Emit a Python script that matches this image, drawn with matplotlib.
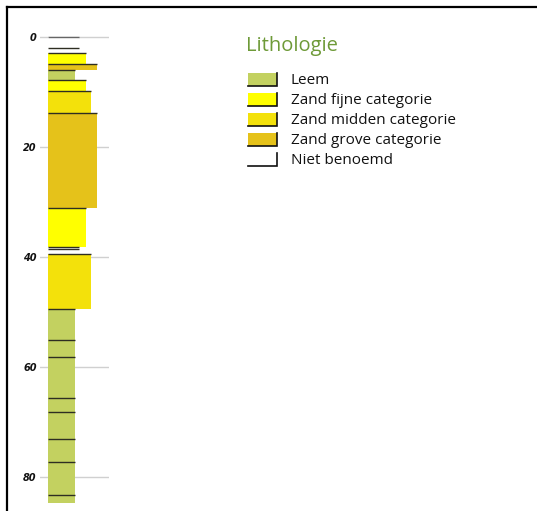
import matplotlib
matplotlib.use("Agg")
import matplotlib.pyplot as plt
from matplotlib.patches import Rectangle
from matplotlib.lines import Line2D

# ---- data ----
layer_top = [0.0, 2.0, 3.0, 5.0, 6.0, 7.8, 9.8, 13.9, 31.1, 38.1, 38.5, 39.5,
             49.5, 55.0, 58.1, 65.6, 68.2, 73.1, 77.2, 83.2]
layer_bottom = [2.0, 3.0, 5.0, 6.0, 7.8, 9.8, 13.9, 31.1, 38.1, 38.5, 39.5, 49.5,
                55.0, 58.1, 65.6, 68.2, 73.1, 77.2, 83.2, 84.6]
layer_type = ["niet", "niet", "fijn", "grof", "leem", "fijn", "midden", "grof", "fijn",
              "niet", "niet", "midden", "leem", "leem", "leem", "leem", "leem", "leem",
              "leem", "leem"]
legend_keys = ["leem", "fijn", "midden", "grof", "niet"]
legend_labels = ["Leem", "Zand fijne categorie", "Zand midden categorie",
                 "Zand grove categorie", "Niet benoemd"]
depth_ticks = [0, 20, 40, 60, 80]
legend_title = "Lithologie"

# ---- styles ----
colors = {"leem": "#C3D160", "fijn": "#FFFF00", "midden": "#F3E10B",
          "grof": "#E5C21A", "niet": "#FFFFFF"}
widths = {"leem": 27, "fijn": 38, "midden": 43, "grof": 49, "niet": 31}
line_color = "#2E2E22"

W, H = 537, 511
fig = plt.figure(figsize=(W / 100, H / 100), dpi=100)

def px_axes(x0, y0, x1, y1):
    return fig.add_axes([x0 / W, 1 - y1 / H, (x1 - x0) / W, (y1 - y0) / H])

# main column axes (x in pixel units)
top_px, bot_px = 30.0, 502.7
scale = 5.52
ax = px_axes(40, top_px, 109, bot_px)
ax.set_xlim(40, 109)
ax.set_ylim(84.6, (top_px - 36.7) / scale)
ax.set_yticks(depth_ticks)
ax.set_yticklabels([str(t) for t in depth_ticks])
ax.set_xticks([])
for s in ax.spines.values():
    s.set_visible(False)
ax.tick_params(axis="y", length=0, pad=2.5)
for lbl in ax.get_yticklabels():
    lbl.set_fontweight("bold")
    lbl.set_fontstyle("italic")
    lbl.set_fontsize(7)
    lbl.set_color("#111111")
ax.yaxis.grid(True, color="#D0D0D0", linewidth=1.0)
ax.set_axisbelow(True)

x0 = 48
for t, b, k in zip(layer_top, layer_bottom, layer_type):
    w = widths[k]
    ax.barh(t, w, height=b - t, left=x0, align="edge", color=colors[k],
            edgecolor="none", zorder=2)
    ax.hlines(t, x0, x0 + w, color=line_color if t > 0 else "#666666",
              linewidth=1.0, zorder=3)

# legend axes (pixel coords)
lg = px_axes(240, 28, 500, 180)
lg.set_xlim(240, 500)
lg.set_ylim(180, 28)
lg.axis("off")
lg.text(246, 46, legend_title, fontsize=14.5, color="#6E9A38", va="center",
        ha="left", family="Open Sans")
for i, (k, lab) in enumerate(zip(legend_keys, legend_labels)):
    yc = 80 + 20 * i
    y_top, y_bot = yc - 6.5, yc + 6.5
    lg.add_patch(Rectangle((248, y_top), 29, 13, facecolor=colors[k],
                           edgecolor="none"))
    lg.plot([248, 277, 277], [y_bot, y_bot, y_top], color="#111111",
            linewidth=1.2, solid_joinstyle="miter")
    lg.text(291, yc, lab, fontsize=11, va="center", ha="left",
            color="#111111", family="Open Sans")

# frame lines (top and left)
fig.add_artist(Line2D([6.5 / W, 1.0], [1 - 7 / H, 1 - 7 / H], color="black",
                      linewidth=1.6, transform=fig.transFigure))
fig.add_artist(Line2D([6.5 / W, 6.5 / W], [0, 1 - 7 / H], color="black",
                      linewidth=1.6, transform=fig.transFigure))

fig.savefig("out.png", dpi=100)
